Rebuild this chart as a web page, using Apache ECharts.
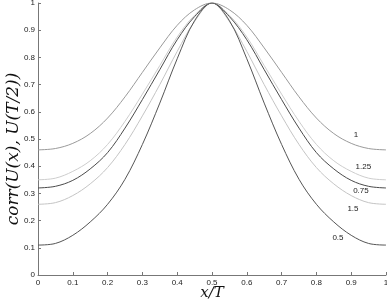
<!DOCTYPE html>
<html><head><meta charset="utf-8">
<script src="https://cdn.jsdelivr.net/npm/echarts@6/dist/echarts.min.js"></script>
<style>html,body{margin:0;padding:0;background:#fff}#c{width:387px;height:307px}</style>
</head><body><div id="c"></div>
<script>
// x/T sample positions
var xs = [0,0.05,0.1,0.15,0.2,0.25,0.3,0.35,0.4,0.45,0.5,0.55,0.6,0.65,0.7,0.75,0.8,0.85,0.9,0.95,1];
var xTicks = ['0','0.1','0.2','0.3','0.4','0.5','0.6','0.7','0.8','0.9','1'];
var yTicks = ['0','0.1','0.2','0.3','0.4','0.5','0.6','0.7','0.8','0.9','1'];
var seriesNames = ['1','1.25','0.75','1.5','0.5'];
var s1   = [0.46,0.465,0.484,0.52,0.577,0.655,0.745,0.835,0.918,0.975,1.0,0.975,0.918,0.835,0.745,0.655,0.577,0.52,0.484,0.465,0.46];
var s125 = [0.35,0.356,0.381,0.42,0.48,0.565,0.665,0.77,0.875,0.955,1.0,0.955,0.875,0.77,0.665,0.565,0.48,0.42,0.381,0.356,0.35];
var s075 = [0.32,0.326,0.348,0.39,0.45,0.54,0.645,0.755,0.865,0.95,1.0,0.95,0.865,0.755,0.645,0.54,0.45,0.39,0.348,0.326,0.32];
var s15  = [0.26,0.266,0.292,0.335,0.395,0.48,0.585,0.70,0.822,0.932,1.0,0.932,0.822,0.70,0.585,0.48,0.395,0.335,0.292,0.266,0.26];
var s05  = [0.11,0.116,0.146,0.195,0.26,0.352,0.48,0.632,0.795,0.935,1.0,0.935,0.795,0.632,0.48,0.352,0.26,0.195,0.146,0.116,0.11];
var allSeries = [s1,s125,s075,s15,s05];

var colors = ['#9a9a9a','#cdcdcd','#4a4a4a','#c4c4c4','#555555'];
var labelCoords = [[0.914,0.515],[0.935,0.398],[0.928,0.309],[0.905,0.243],[0.862,0.136]];

function pairs(v){ return xs.map(function(x,i){return [x,v[i]];}); }

var series = allSeries.map(function(v,k){
  return {
    type:'line', name:seriesNames[k], data:pairs(v), smooth:0.35, symbol:'none',
    lineStyle:{color:colors[k], width:1}, z: 2,
    markPoint:{symbol:'circle', symbolSize:0, silent:true,
      label:{show:true, position:'inside', formatter:seriesNames[k], color:'#222', fontSize:8, fontFamily:'Liberation Sans'},
      data:[{coord:labelCoords[k]}]}
  };
});

var chart = echarts.init(document.getElementById('c'));
chart.setOption({
  animation:false,
  grid:{left:38, right:1, top:3, bottom:32, outerBoundsMode:'none', containLabel:false},
  xAxis:{type:'value', min:0, max:1, interval:0.1,
    name:'x/T', nameLocation:'middle', nameGap:11, nameMoveOverlap:false,
    nameTextStyle:{fontFamily:'DejaVu Serif', fontStyle:'italic', fontSize:15, color:'#111', verticalAlign:'top'},
    axisLine:{lineStyle:{color:'#777'}},
    axisTick:{inside:true, length:3, lineStyle:{color:'#777'}},
    axisLabel:{fontSize:8, color:'#222', fontFamily:'Liberation Sans', margin:4,
      formatter:function(v){var i=Math.round(v*10);return xTicks[i];}},
    splitLine:{show:false}},
  yAxis:{type:'value', min:0, max:1, interval:0.1,
    name:'corr(U(x), U(T/2))', nameLocation:'middle', nameGap:16, nameRotate:90, nameMoveOverlap:false,
    nameTextStyle:{fontFamily:'DejaVu Serif', fontStyle:'italic', fontSize:17, color:'#111', padding:[0,20,0,0]},
    axisLine:{show:true, lineStyle:{color:'#777'}},
    axisTick:{show:true, inside:true, length:3, lineStyle:{color:'#777'}},
    axisLabel:{fontSize:8, color:'#222', fontFamily:'Liberation Sans', margin:3,
      formatter:function(v){var i=Math.round(v*10);return yTicks[i];}},
    splitLine:{show:false}},
  series:series
});
</script></body></html>
